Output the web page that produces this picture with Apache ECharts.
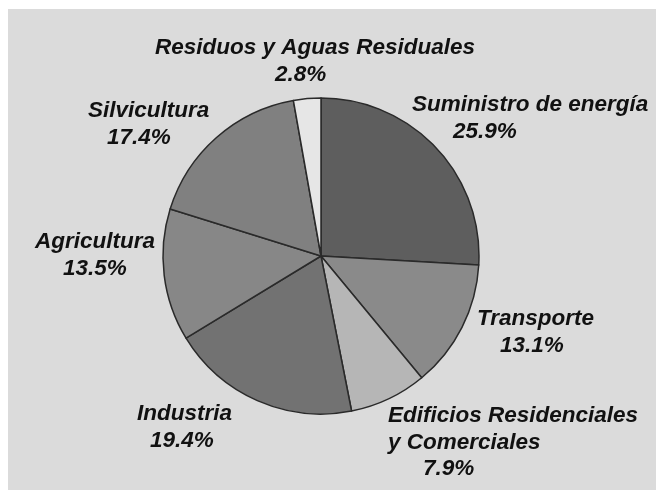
<!DOCTYPE html>
<html>
<head>
<meta charset="utf-8">
<script src="https://cdn.jsdelivr.net/npm/echarts@6/dist/echarts.min.js"></script>
<style>
html,body{margin:0;padding:0;background:#ffffff;}
#chart{width:656px;height:490px;}
</style>
</head>
<body>
<div id="chart"></div>
<script>
// Data (clockwise from 12 o'clock)
const categories = [
  'Suministro de energía',
  'Transporte',
  'Edificios Residenciales\ny Comerciales',
  'Industria',
  'Agricultura',
  'Silvicultura',
  'Residuos y Aguas Residuales'
];
const shares = [25.9, 13.1, 7.9, 19.4, 13.5, 17.4, 2.8];

// Styling (not data)
const sliceColors = ['#5e5e5e', '#8a8a8a', '#b6b6b6', '#727272', '#878787', '#808080', '#e6e6e6'];
// label block: left x, top y, indent of the percentage line
const labelPos = [
  [412, 92, 41],
  [477, 306, 23],
  [388, 403, 35],
  [137, 401, 13],
  [35, 229, 28],
  [88, 98, 19],
  [155, 35, 120]
];

const chart = echarts.init(document.getElementById('chart'), null, {renderer: 'canvas'});

const data = categories.map((c, i) => ({
  name: c,
  value: shares[i],
  itemStyle: {color: sliceColors[i]},
  label: {
    rich: {
      n: {fontFamily: 'Liberation Sans, Arial, sans-serif', fontSize: 22.5, fontWeight: 'bold', fontStyle: 'italic', color: '#111', lineHeight: 26.5},
      p: {fontFamily: 'Liberation Sans, Arial, sans-serif', fontSize: 22.5, fontWeight: 'bold', fontStyle: 'italic', color: '#111', lineHeight: 26.5, padding: [0, 0, 0, labelPos[i][2]]}
    }
  }
}));

const option = {
  animation: false,
  backgroundColor: '#ffffff',
  graphic: [{
    type: 'rect', z: -10, silent: true,
    shape: {x: 8, y: 9, width: 660, height: 490},
    style: {fill: '#dbdbdb'}
  }],
  series: [{
    type: 'pie',
    center: [321, 256],
    radius: [0, 158],
    startAngle: 90,
    clockwise: true,
    avoidLabelOverlap: false,
    itemStyle: {borderColor: '#2a2a2a', borderWidth: 1.5},
    label: {
      show: true,
      position: 'outside',
      align: 'left',
      formatter: function (p) {
        const lines = p.name.split('\n').map(s => '{n|' + s + '}');
        return lines.join('\n') + '\n{p|' + p.value.toFixed(1) + '%}';
      }
    },
    labelLine: {show: false},
    labelLayout: function (params) {
      const pos = labelPos[params.dataIndex];
      return {x: pos[0], y: pos[1], align: 'left', verticalAlign: 'top', hideOverlap: false};
    },
    emphasis: {disabled: true},
    data: data
  }]
};
chart.setOption(option);
</script>
</body>
</html>
